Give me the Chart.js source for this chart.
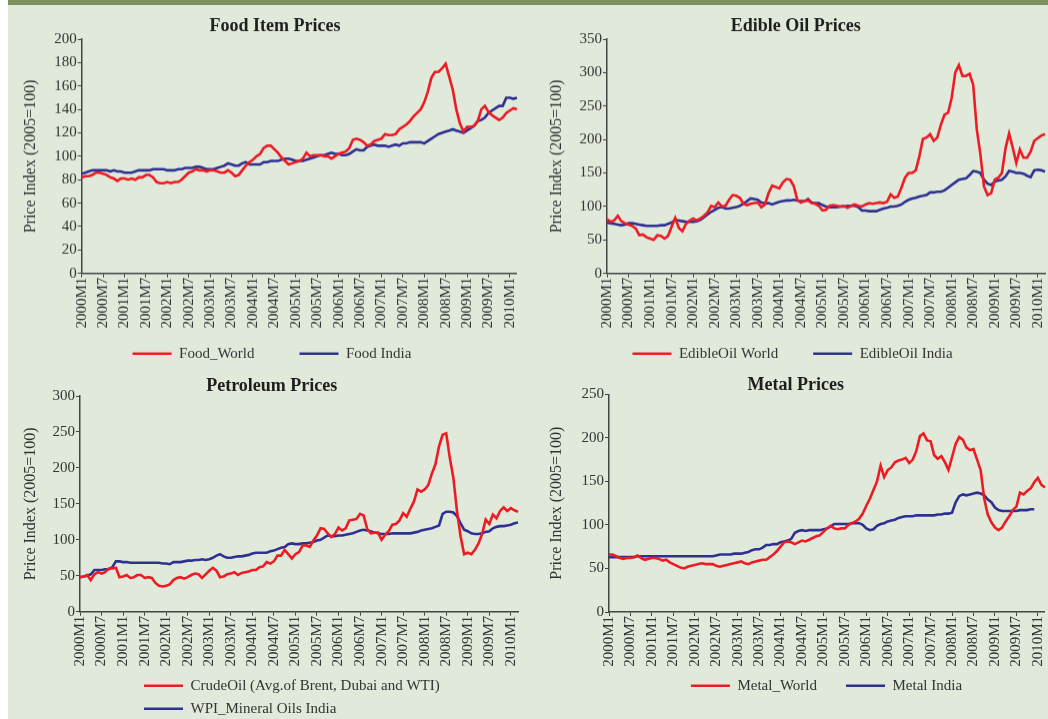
<!DOCTYPE html>
<html>
<head>
<meta charset="utf-8">
<script src="https://cdn.jsdelivr.net/npm/chart.js@4.4.1/dist/chart.umd.min.js"></script>
<style>
html, body { margin: 0; padding: 0; width: 1048px; height: 719px; overflow: hidden; background: #fff; }
#panel { position: absolute; left: 8px; top: 0; width: 1040px; height: 719px; background: #e1e9db; border-top: 5px solid #7e9060; box-sizing: border-box; }
.box { position: absolute; }
</style>
</head>
<body>
<div id="panel"></div>
<div class="box" style="left:0;top:5px;width:528px;height:395.7px"><canvas id="food"></canvas></div>
<div class="box" style="left:524px;top:5px;width:532px;height:385.7px"><canvas id="oil"></canvas></div>
<div class="box" style="left:0;top:362px;width:529px;height:364.2px"><canvas id="petrol"></canvas></div>
<div class="box" style="left:524px;top:362px;width:532px;height:362px"><canvas id="metal"></canvas></div>
<script>
// monthly categories 2000M1 .. 2010M3
const months = []
for (let y = 2000; y <= 2010; y++) {
    for (let m = 1; m <= 12; m++) months.push(`${y}M${m}`)
}
months.length = 123

const foodWorld = [82,83,83,84,86,86, 85,84,82,81,79,81, 81,80,81,80,82,82, 84,84,82,78,77,77,
    78,77,78,78,80,83, 86,87,89,88,88,87, 88,88,87,86,86,88, 86,83,84,88,92,95,
    97,100,102,107,109,109, 106,103,99,96,93,94, 95,96,98,103,100,101, 101,101,100,100,98,100,
    102,103,104,107,114,115, 114,112,109,110,113,114, 115,119,118,118,119,123, 125,127,130,134,137,140,
    146,155,167,172,172,175, 179,168,157,140,128,121, 125,125,126,130,140,143, 138,135,133,131,133,137,
    139,141,140]
const foodIndia = [85,86,87,88,88,88, 88,88,87,88,87,87, 86,86,86,87,88,88, 88,88,89,89,89,89,
    88,88,88,89,89,90, 90,90,91,91,90,89, 89,89,90,91,92,94, 93,92,92,94,95,93,
    93,93,93,95,95,96, 96,96,97,98,98,97, 96,96,96,97,98,99, 100,101,101,102,103,102,
    102,101,101,102,104,106, 105,105,108,109,110,109, 109,109,108,109,110,109, 111,111,112,112,112,112,
    111,113,115,117,119,120, 121,122,123,122,121,120, 122,124,126,130,131,133, 137,139,141,143,143,150,
    150,149,150]

const oilWorld = [81,77,79,86,78,75, 73,71,67,57,58,54, 52,50,57,56,52,56, 70,83,68,63,74,79,
    82,79,82,86,91,101, 99,106,100,101,110,117, 116,113,104,102,104,105, 106,99,103,120,131,129,
    127,136,141,140,131,110, 106,108,109,105,104,101, 94,95,101,102,101,100, 101,98,101,103,101,100,
    103,105,104,105,106,105, 107,118,113,115,128,143, 150,150,154,175,201,203, 208,198,203,222,237,240,
    262,300,311,295,295,298, 282,215,178,130,117,120, 140,143,150,187,209,188, 165,185,173,173,182,198,
    202,206,208]
const oilIndia = [76,75,74,73,72,73, 75,75,74,73,72,71, 71,71,71,72,72,74, 76,80,79,78,77,77,
    77,78,80,84,88,92, 95,98,99,97,97,98, 99,101,104,108,112,111, 110,106,105,105,103,105,
    107,108,109,109,110,109, 108,108,111,106,105,105, 102,100,99,99,99,100, 100,101,101,101,99,94,
    94,93,93,93,95,97, 98,100,100,101,103,107, 110,112,113,115,116,117, 121,121,122,122,124,128,
    132,136,140,141,142,147, 153,152,150,140,134,132, 137,139,140,145,153,152, 150,150,149,146,144,154,
    155,154,152]

const crudeOil = [48,49,51,44,52,55, 53,55,60,60,61,48, 49,51,47,48,51,51, 47,48,47,40,36,35,
    36,38,44,47,48,46, 48,51,53,52,47,52, 57,61,57,48,49,52, 53,55,51,54,55,56,
    58,58,62,63,69,67, 70,78,78,86,80,74, 80,83,92,92,90,99, 106,116,115,109,104,108,
    117,113,116,127,128,129, 136,134,115,109,110,110, 100,107,112,121,122,127, 137,132,143,153,170,167,
    170,176,192,205,230,246, 248,214,186,140,105,80, 82,80,86,95,108,128, 122,135,130,140,145,140,
    144,141,139]
const wpiMineral = [48,49,50,52,58,58, 58,59,59,62,70,70, 69,69,68,68,68,68, 68,68,68,68,68,67,
    67,66,69,69,69,70, 71,71,72,72,73,72, 73,75,78,80,77,75, 75,76,77,77,78,79,
    81,82,82,82,82,84, 85,87,89,90,94,95, 94,94,95,95,96,97, 99,100,103,106,105,105,
    106,106,107,108,109,111, 113,114,113,112,110,109, 108,108,108,109,109,109, 109,109,109,110,111,113,
    114,115,116,118,120,136, 139,139,138,133,123,114, 112,109,108,108,109,111, 112,116,118,119,119,120,
    121,123,124]

const metalWorld = [66,66,64,62,61,62, 62,63,65,62,60,61, 62,62,61,59,60,57, 55,53,51,50,52,53,
    54,55,56,55,55,55, 53,52,53,54,55,56, 57,58,56,55,57,58, 59,60,60,63,66,70,
    75,80,81,80,78,80, 82,81,83,85,87,88, 92,96,99,96,95,96, 96,100,102,104,107,113,
    122,130,140,150,168,155, 163,166,172,174,175,177, 171,175,185,202,205,197, 196,180,176,179,172,163,
    178,193,201,198,189,186, 187,175,163,130,112,103, 97,94,97,104,110,117, 121,137,135,139,142,149,
    154,146,143]
const metalIndia = [63,63,63,63,63,63, 63,63,64,64,64,64, 64,64,64,64,64,64, 64,64,64,64,64,64,
    64,64,64,64,64,64, 65,66,66,66,66,67, 67,67,68,69,71,72, 72,74,77,77,78,78,
    80,81,82,84,91,93, 94,93,94,94,94,94, 95,96,98,101,101,101, 101,101,102,102,102,100,
    96,94,95,99,101,102, 104,105,106,108,109,110, 110,110,111,111,111,111, 111,111,112,112,113,113,
    114,126,133,135,134,135, 136,137,136,134,129,126, 120,117,116,116,116,116, 116,117,117,117,118,118,
    null,null,null]

const RED = '#ed1c24'
const BLUE = '#2e3192'
const INK = '#333'

Chart.defaults.font.family = "'Liberation Serif', 'Times New Roman', serif"
Chart.defaults.font.size = 15
Chart.defaults.color = INK

// shift title / legend boxes after layout
const nudge = {
    id: 'nudge',
    afterLayout(chart, args, opts) {
        if (opts.title && chart.titleBlock) {
            chart.titleBlock.left += opts.title
            chart.titleBlock.right += opts.title
        }
        const lg = chart.legend
        if (!lg) return
        if (opts.legend) {
            lg.left += opts.legend
            if (lg.options.align !== 'start') lg.right += opts.legend
        }
        if (opts.legendY) {
            lg.top += opts.legendY
            lg.bottom += opts.legendY
        }
    }
}

function makeChart(id, cfg) {
    const g = cfg.geo
    return new Chart(document.getElementById(id), {
        type: 'line',
        data: {
            labels: months,
            datasets: cfg.series.map(s => ({
                label: s.label,
                data: s.data,
                borderColor: s.color,
                backgroundColor: s.color,
                borderWidth: 2.6,
                pointRadius: 0,
                tension: 0,
                spanGaps: false
            }))
        },
        plugins: [nudge],
        options: {
            responsive: true,
            maintainAspectRatio: false,
            animation: false,
            layout: { padding: { left: g.padLeft, right: 10, top: 0, bottom: 0 } },
            plugins: {
                nudge: { title: g.titleDx, legend: g.legendDx, legendY: g.legendDy },
                tooltip: { enabled: false },
                title: {
                    display: true,
                    text: cfg.title,
                    color: '#1e1e1e',
                    font: { size: 18, weight: 'bold', lineHeight: 1 },
                    padding: { top: g.titleTop, bottom: g.titleBottom }
                },
                legend: {
                    position: 'bottom',
                    align: g.legendAlign || 'center',
                    labels: {
                        usePointStyle: true,
                        pointStyle: 'line',
                        pointStyleWidth: 39,
                        padding: g.legendPad,
                        color: INK,
                        font: { size: 15 }
                    }
                }
            },
            scales: {
                x: {
                    afterFit: s => { s.height = g.xHeight },
                    grid: { drawOnChartArea: false, drawTicks: true, tickLength: 4, color: '#444' },
                    border: { display: true, color: '#444', width: 1.5 },
                    ticks: {
                        autoSkip: false,
                        minRotation: 90,
                        maxRotation: 90,
                        padding: 0,
                        color: INK,
                        callback: (v, i) => (i % 6 === 0 ? months[i] : null)
                    }
                },
                y: {
                    min: 0,
                    max: cfg.yMax,
                    afterFit: s => { s.width = g.yWidth },
                    grid: { drawOnChartArea: false, drawTicks: true, tickLength: 4, color: '#444' },
                    border: { display: true, color: '#444', width: 1.5 },
                    ticks: { stepSize: cfg.yStep, padding: 1, color: INK },
                    title: {
                        display: true,
                        text: 'Price Index (2005=100)',
                        color: INK,
                        font: { size: 16 },
                        padding: { top: g.yTitlePad, bottom: 0 }
                    }
                }
            }
        }
    })
}

makeChart('food', {
    title: 'Food Item Prices',
    yMax: 200, yStep: 20,
    series: [
        { label: 'Food_World', data: foodWorld, color: RED },
        { label: 'Food India', data: foodIndia, color: BLUE }
    ],
    geo: { padLeft: 0, yWidth: 81.7, yTitlePad: 21.1, xHeight: 58, titleTop: 12, titleBottom: 4,
        legendPad: 45, titleDx: 16, legendDx: 13, legendDy: -30.5 }
})

makeChart('oil', {
    title: 'Edible Oil Prices',
    yMax: 350, yStep: 50,
    series: [
        { label: 'EdibleOil World', data: oilWorld, color: RED },
        { label: 'EdibleOil India', data: oilIndia, color: BLUE }
    ],
    geo: { padLeft: 0, yWidth: 83, yTitlePad: 23.4, xHeight: 58, titleTop: 12, titleBottom: 4,
        legendPad: 35, titleDx: 10.7, legendDx: 7.5, legendDy: -20.5 }
})

makeChart('petrol', {
    title: 'Petroleum Prices',
    yMax: 300, yStep: 50,
    series: [
        { label: 'CrudeOil (Avg.of Brent, Dubai and WTI)', data: crudeOil, color: RED },
        { label: 'WPI_Mineral Oils India', data: wpiMineral, color: BLUE }
    ],
    geo: { padLeft: 20, yWidth: 60, yTitlePad: 1.1, xHeight: 58.5, titleTop: 15.7, titleBottom: 0.3,
        legendPad: 8, legendAlign: 'start', titleDx: 2.2, legendDx: 116, legendDy: 0 }
})

makeChart('metal', {
    title: 'Metal Prices',
    yMax: 250, yStep: 50,
    series: [
        { label: 'Metal_World', data: metalWorld, color: RED },
        { label: 'Metal India', data: metalIndia, color: BLUE }
    ],
    geo: { padLeft: 0, yWidth: 85, yTitlePad: 23.4, xHeight: 58, titleTop: 14.3, titleBottom: 0,
        legendPad: 29, titleDx: 10.7, legendDx: 41.5, legendDy: -20.8 }
})
</script>
</body>
</html>
